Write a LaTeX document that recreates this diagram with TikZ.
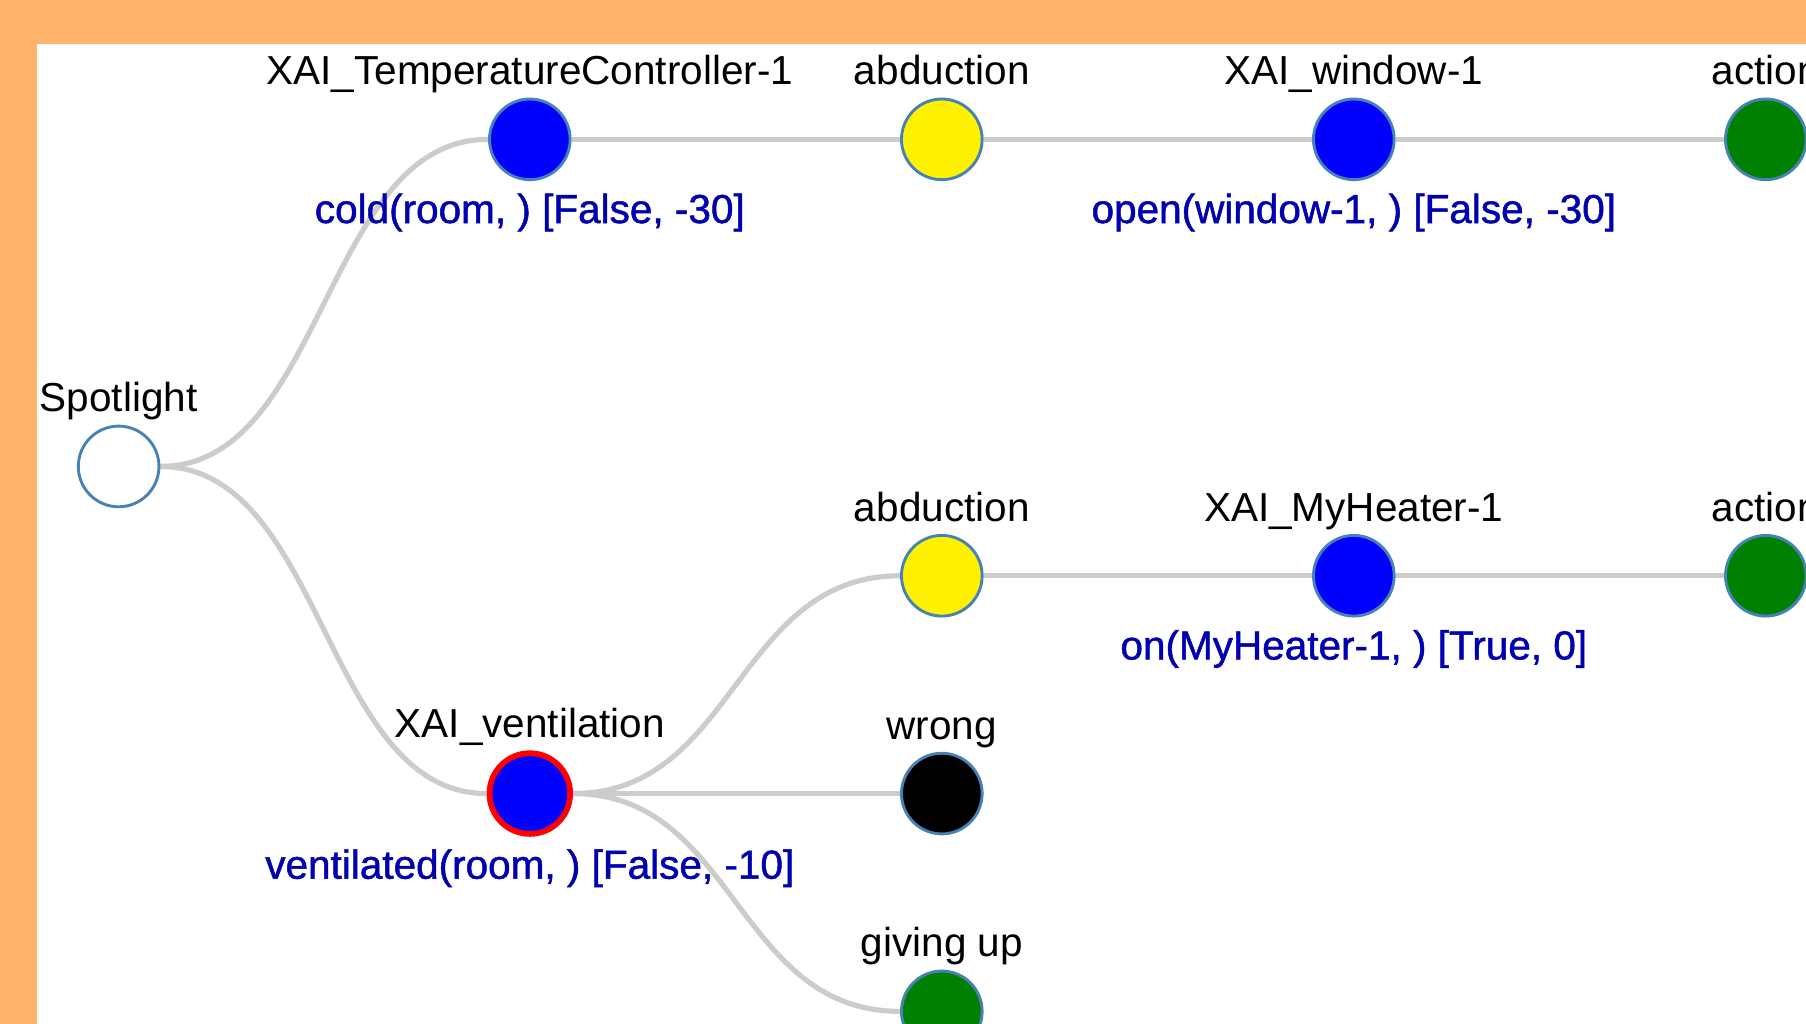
\documentclass[tikz,border=0pt]{standalone}
\usepackage{fontspec}
\setmainfont{Liberation Sans}
\newfontfamily\factfont[FakeBold=1.2]{Liberation Sans}
\usetikzlibrary{positioning, backgrounds}

\definecolor{bgorange}{RGB}{255,179,107}
\definecolor{edgeblue}{RGB}{70,130,180}
\definecolor{linkgray}{RGB}{204,204,204}
\definecolor{factblue}{RGB}{0,0,175}
\definecolor{goalgreen}{RGB}{0,128,0}

\begin{document}
\begin{tikzpicture}[
    x=0.01cm, y=-0.01cm,
    font=\fontsize{10pt}{12pt}\selectfont,
    vert/.style={circle, draw=edgeblue, line width=0.025cm, minimum size=0.70cm, inner sep=0pt},
    agent/.style={vert, fill=blue},
    abd/.style={vert, fill=yellow},
    act/.style={vert, fill=goalgreen},
    fail/.style={vert, fill=black},
    current/.style={draw=red, line width=0.05cm},
    every label/.style={text height=7.3pt, text depth=2.1pt, inner sep=0pt, label distance=0.03cm},
    fact/.style={text=factblue, font=\fontsize{10pt}{12pt}\factfont, label distance=0.10cm},
    link/.style={draw=linkgray, line width=0.045cm,
        to path={.. controls +(178.75,0) and +(-178.75,0) .. (\tikztotarget)}},
    node distance=3.575cm
]

    % Moldura
    \useasboundingbox (0,0) rectangle (1568,889);
    \clip (0,0) rectangle (1568,889);
    \begin{scope}[on background layer]
        \fill[bgorange] (0,0) rectangle (1568,889);
        \fill[white] (32,38.5) rectangle (1568,889);
    \end{scope}

    % Raiz e primeiro nível
    \node[vert, fill=white, label={above:Spotlight}] (spot) at (103,405) {};
    \node[agent, label={above:XAI\_TemperatureController-1},
        label={[fact]below:{cold(room, ) [False, -30]}}] (tempctrl) at (460,121) {};
    \node[agent, current, label={above:XAI\_ventilation},
        label={[fact]below:{ventilated(room, ) [False, -10]}}] (vent) at (460,689) {};

    % Ramo de cima
    \node[abd, right of=tempctrl, label={above:abduction}] (abd1) {};
    \node[agent, right of=abd1, label={above:XAI\_window-1},
        label={[fact]below:{open(window-1, ) [False, -30]}}] (window) {};
    \node[act, right of=window, label={above:action}] (act1) {};

    % Ramo de baixo
    \node[abd, right of=vent, yshift=1.89cm, label={above:abduction}] (abd2) {};
    \node[agent, right of=abd2, label={above:XAI\_MyHeater-1},
        label={[fact]below:{on(MyHeater-1, ) [True, 0]}}] (heater) {};
    \node[act, right of=heater, label={above:action}] (act2) {};
    \node[fail, right of=vent, label={above:wrong}] (wrong) {};
    \node[act, right of=vent, yshift=-1.89cm, label={above:giving up}] (giveup) {};

    % Ligações
    \begin{scope}[on background layer]
        \draw[link] (spot) to (tempctrl);
        \draw[link] (spot) to (vent);
        \draw[link] (tempctrl) to (abd1);
        \draw[link] (abd1) to (window);
        \draw[link] (window) to (act1);
        \draw[link] (vent) to (abd2);
        \draw[link] (abd2) to (heater);
        \draw[link] (heater) to (act2);
        \draw[link] (vent) to (wrong);
        \draw[link] (vent) to (giveup);
    \end{scope}

\end{tikzpicture}
\end{document}
